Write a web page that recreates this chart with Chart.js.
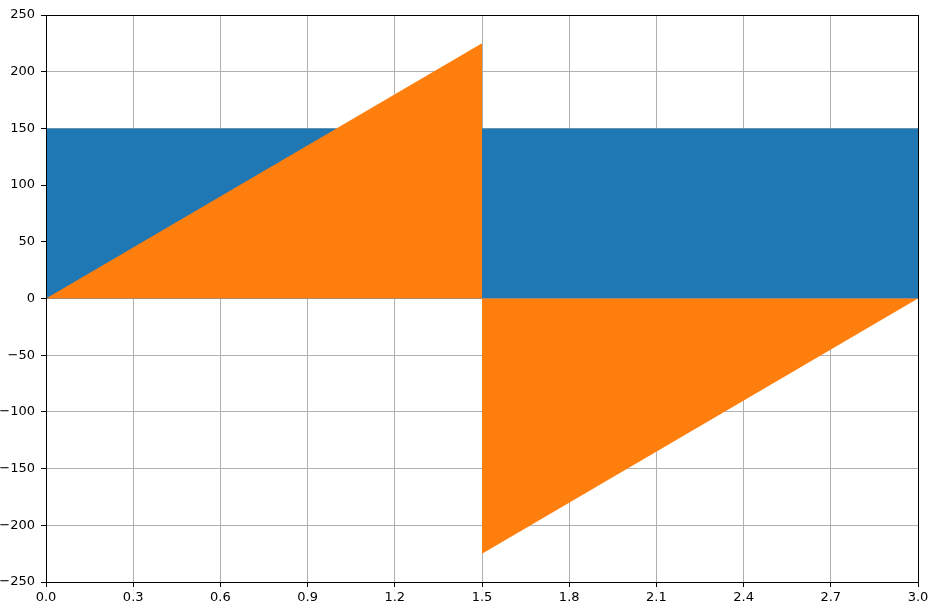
<!DOCTYPE html>
<html>
<head>
<meta charset="utf-8">
<script src="https://cdn.jsdelivr.net/npm/chart.js@4"></script>
<style>
  html, body { margin: 0; padding: 0; background: #fff; }
  #wrap { width: 940px; height: 616px; }
</style>
</head>
<body>
<div id="wrap"><canvas id="chart"></canvas></div>
<script>
// values
var rectX = [0.0, 3.0];
var rectY = [150, 150];
var triX = [0.0, 1.5, 1.5, 3.0];
var triY = [0, 225, -225, 0];
var xTicks = [0.0, 0.3, 0.6, 0.9, 1.2, 1.5, 1.8, 2.1, 2.4, 2.7, 3.0];
var yTicks = [-250, -200, -150, -100, -50, 0, 50, 100, 150, 200, 250];

function toPoints(xs, ys) {
  return xs.map(function (x, i) { return { x: x, y: ys[i] }; });
}

// black box round the plot area, like matplotlib spines
const frame = {
  id: 'frame',
  afterDraw: function (chart) {
    var a = chart.chartArea, ctx = chart.ctx;
    ctx.save();
    ctx.strokeStyle = '#000';
    ctx.lineWidth = 1;
    ctx.strokeRect(Math.round(a.left) + 0.5, Math.round(a.top) + 0.5,
      Math.round(a.right - a.left), Math.round(a.bottom - a.top));
    ctx.restore();
  }
};

const tickFont = { family: 'DejaVu Sans', size: 13 };

const config = {
  type: 'line',
  data: {
    datasets: [{
      data: toPoints(triX, triY),
      backgroundColor: '#ff7f0e',
      borderWidth: 0,
      pointRadius: 0,
      fill: 'origin',
      tension: 0,
      order: 0
    }, {
      data: toPoints(rectX, rectY),
      backgroundColor: '#1f77b4',
      borderWidth: 0,
      pointRadius: 0,
      fill: 'origin',
      tension: 0,
      order: 1
    }]
  },
  options: {
    responsive: true,
    maintainAspectRatio: false,
    animation: false,
    layout: { padding: { top: 15, right: 22, left: 0, bottom: 0 } },
    plugins: { legend: { display: false }, tooltip: { enabled: false } },
    scales: {
      x: {
        type: 'linear',
        min: 0, max: 3,
        z: 1,
        afterBuildTicks: function (s) { s.ticks = xTicks.map(function (v) { return { value: v }; }); },
        afterFit: function (s) { s.height = 34; },
        ticks: { font: tickFont, color: '#000', padding: 3, maxRotation: 0, autoSkip: false,
          callback: function (v) { return Number(v).toFixed(1); } },
        grid: { color: '#b0b0b0', lineWidth: 1, tickLength: 5, tickColor: '#000' },
        border: { color: '#000' }
      },
      y: {
        min: -250, max: 250,
        z: 1,
        afterBuildTicks: function (s) { s.ticks = yTicks.map(function (v) { return { value: v }; }); },
        afterFit: function (s) { s.width = 46; },
        ticks: { font: tickFont, color: '#000', padding: 6, autoSkip: false,
          callback: function (v) { return String(v).replace('-', '\u2212'); } },
        grid: { color: '#b0b0b0', lineWidth: 1, tickLength: 5, tickColor: '#000' },
        border: { color: '#000' }
      }
    }
  },
  plugins: [frame]
};

var myChart = new Chart(document.getElementById('chart'), config);
</script>
</body>
</html>
